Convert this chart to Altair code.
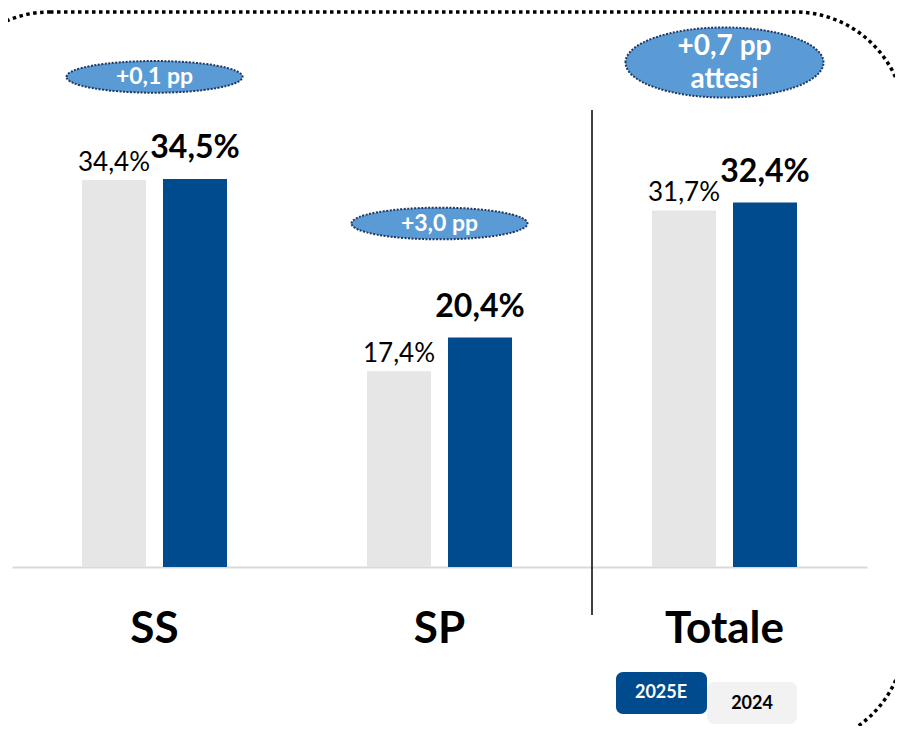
import altair as alt
import pandas as pd

# ---- data ----
categories = ["SS", "SP", "Totale"]
series = ["2024", "2025E"]
values_2024 = [34.4, 17.4, 31.7]
values_2025 = [34.5, 20.4, 32.4]
labels_2024 = ["34,4%", "17,4%", "31,7%"]
labels_2025 = ["34,5%", "20,4%", "32,4%"]
deltas = ["+0,1 pp", "+3,0 pp", "+0,7 pp\nattesi"]
legend_labels = ["2025E", "2024"]

# ---- layout constants ----
W, H = 887, 718
PX_PER_UNIT = 11.25
BASE_PX = 559  # chart pixel of value 0
Y_DOMAIN = [-(H - BASE_PX) / PX_PER_UNIT, BASE_PX / PX_PER_UNIT]
ann_lift_px = [102, 114, 140]

C24 = "#E6E6E6"
C25 = "#004B8D"
FONT = "Lato"

rows = []
for i, c in enumerate(categories):
    rows.append({"cat": c, "series": "2024", "value": values_2024[i], "label": labels_2024[i]})
    rows.append({"cat": c, "series": "2025E", "value": values_2025[i], "label": labels_2025[i]})
df = pd.DataFrame(rows)

ann = pd.DataFrame({
    "cat": categories,
    "text": deltas,
    "y": [max(a, b) + lift / PX_PER_UNIT for a, b, lift in zip(values_2024, values_2025, ann_lift_px)],
    "big": [False, False, True],
})

x_enc = alt.X(
    "cat:N", sort=categories,
    scale=alt.Scale(range=[4, 859], paddingInner=0, paddingOuter=0),
    axis=alt.Axis(title=None, labelAngle=0, labelFont=FONT, labelFontSize=44,
                  labelFontWeight="bold", labelColor="black", ticks=False,
                  domainColor="#D9D9D9", domainWidth=2, offset=-(H - BASE_PX),
                  labelPadding=40, grid=False),
)
xo_enc = alt.XOffset("series:N", sort=series,
                     scale=alt.Scale(paddingInner=0.21, paddingOuter=0.864))
y_scale = alt.Scale(domain=Y_DOMAIN, nice=False, zero=False)

base = alt.Chart(df)

bars = base.mark_bar().encode(
    x=x_enc, xOffset=xo_enc,
    y=alt.Y("value:Q", scale=y_scale, axis=None),
    y2=alt.datum(0),
    color=alt.Color("series:N", scale=alt.Scale(domain=series, range=[C24, C25]), legend=None),
)

lab24 = base.transform_filter(alt.datum.series == "2024").mark_text(
    font=FONT, fontSize=26, color="black", baseline="alphabetic", dy=-9
).encode(x=x_enc, xOffset=xo_enc, y=alt.Y("value:Q", scale=y_scale, axis=None), text="label:N")

lab25 = base.transform_filter(alt.datum.series == "2025E").mark_text(
    font=FONT, fontSize=32, fontWeight="bold", color="black", baseline="alphabetic", dy=-21
).encode(x=x_enc, xOffset=xo_enc, y=alt.Y("value:Q", scale=y_scale, axis=None), text="label:N")

small_path = "M-1,0A1,0.18,0,1,1,1,0A1,0.18,0,1,1,-1,0Z"
big_path = "M-1,0A1,0.354,0,1,1,1,0A1,0.354,0,1,1,-1,0Z"

ann_base = alt.Chart(ann)
ell_small = ann_base.transform_filter(alt.datum.big == False).mark_point(
    shape=small_path, size=176 * 176, filled=True, fill="#5B9BD5", stroke="#1F3864",
    strokeWidth=2, strokeDash=[2, 1.5], opacity=1, fillOpacity=1, strokeOpacity=1
).encode(x=x_enc, y=alt.Y("y:Q", scale=y_scale, axis=None))
ell_big = ann_base.transform_filter(alt.datum.big == True).mark_point(
    shape=big_path, size=198 * 198, filled=True, fill="#5B9BD5", stroke="#1F3864",
    strokeWidth=2, strokeDash=[2, 1.5], opacity=1, fillOpacity=1, strokeOpacity=1
).encode(x=x_enc, y=alt.Y("y:Q", scale=y_scale, axis=None))
ann_txt_small = ann_base.transform_filter(alt.datum.big == False).mark_text(
    font=FONT, fontSize=23, fontWeight="bold", color="white", baseline="middle"
).encode(x=x_enc, y=alt.Y("y:Q", scale=y_scale, axis=None), text="text:N")
ann_txt_big = ann_base.transform_filter(alt.datum.big == True).mark_text(
    font=FONT, fontSize=28, fontWeight="bold", color="white", baseline="middle",
    lineBreak="\n", lineHeight=33, dy=-16
).encode(x=x_enc, y=alt.Y("y:Q", scale=y_scale, axis=None), text="text:N")

one = pd.DataFrame({"a": [0]})
sep = alt.Chart(one).mark_rule(color="black", strokeWidth=1.5).encode(
    x=alt.value(584), y=alt.value(102), y2=alt.value(607))

border = alt.Chart(one).mark_rect(
    fillOpacity=0, stroke="black", strokeWidth=3.5, strokeDash=[3.5, 3.5], cornerRadius=110
).encode(x=alt.value(-68), x2=alt.value(897), y=alt.value(4), y2=alt.value(738))

leg24_box = alt.Chart(one).mark_rect(fill="#F2F2F2", cornerRadius=7).encode(
    x=alt.value(699), x2=alt.value(789), y=alt.value(674), y2=alt.value(716))
leg25_box = alt.Chart(one).mark_rect(fill=C25, cornerRadius=7).encode(
    x=alt.value(608), x2=alt.value(699), y=alt.value(664), y2=alt.value(706))
leg25_txt = alt.Chart(pd.DataFrame({"t": [legend_labels[0]]})).mark_text(
    font=FONT, fontSize=18, fontWeight="bold", color="white", baseline="middle"
).encode(x=alt.value(653), y=alt.value(685), text="t:N")
leg24_txt = alt.Chart(pd.DataFrame({"t": [legend_labels[1]]})).mark_text(
    font=FONT, fontSize=18, fontWeight="bold", color="black", baseline="middle"
).encode(x=alt.value(744), y=alt.value(696), text="t:N")

chart = alt.layer(
    border, bars, lab24, lab25, ell_small, ell_big, ann_txt_small, ann_txt_big,
    sep, leg24_box, leg25_box, leg25_txt, leg24_txt
).properties(
    width=W, height=H, autosize=alt.AutoSizeParams(type="none"), padding=0,
    background="white"
).configure_view(stroke=None)

chart.save("out.html", embed_options={"renderer": "svg", "actions": False})
